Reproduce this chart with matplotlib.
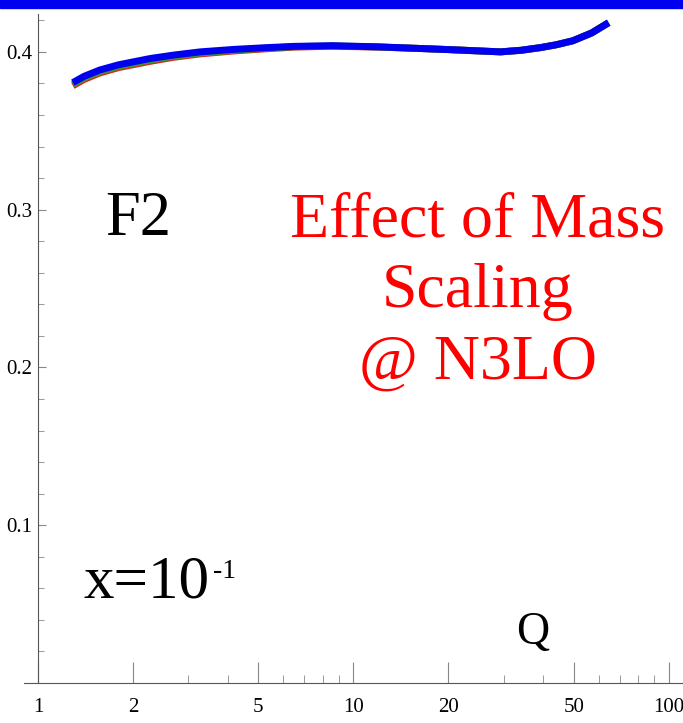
import matplotlib.pyplot as plt
import matplotlib.patches as mpatches
import numpy as np

# F2 at x = 0.1 vs Q for three mass-scaling choices
Q = [1.29, 1.4, 1.57, 1.8, 2.27, 2.7, 3.27, 4.2, 5.33, 6.5, 8.6, 12, 16, 20.3, 25, 29.3, 34, 39.2, 44, 49.6, 57, 64.5]
F2_red = [0.3785, 0.3825, 0.3866, 0.3900, 0.3940, 0.3966, 0.3987, 0.4006, 0.4020, 0.4030, 0.4036, 0.4030, 0.4022, 0.4014, 0.4006, 0.4000, 0.4010, 0.4027, 0.4045, 0.4070, 0.4120, 0.4185]
F2_green = [0.3795, 0.3835, 0.3875, 0.3909, 0.3949, 0.3973, 0.3993, 0.4011, 0.4024, 0.4033, 0.4038, 0.4031, 0.4022, 0.4014, 0.4006, 0.4000, 0.4010, 0.4027, 0.4045, 0.4070, 0.4120, 0.4185]
F2_blue = [0.3805, 0.3845, 0.3885, 0.3918, 0.3958, 0.3980, 0.4000, 0.4016, 0.4027, 0.4035, 0.4039, 0.4032, 0.4022, 0.4014, 0.4006, 0.4000, 0.4010, 0.4027, 0.4045, 0.4070, 0.4120, 0.4185]

major_x = [1, 2, 5, 10, 20, 50, 100]
minor_x = [3, 4, 6, 7, 8, 9, 30, 40, 60, 70, 80, 90]
major_y = [0.1, 0.2, 0.3, 0.4]

plt.rcParams['font.family'] = ['Liberation Serif', 'DejaVu Serif']

W, H = 683, 723
fig = plt.figure(figsize=(W / 100, H / 100), dpi=100)
ax = fig.add_axes([24 / W, 40 / H, 1 - 24 / W, (683 - 14) / H])

# blue banner along the top edge
fig.patches.append(mpatches.Rectangle((0, 1 - 8 / H), 1, 8 / H, transform=fig.transFigure,
                                      color='#0000f0', zorder=10))

ax.plot(Q, F2_red, color='#d42a1a', lw=5, solid_capstyle='butt')
ax.plot(Q, F2_green, color='#3a9a2a', lw=5, solid_capstyle='butt')
ax.plot(Q, F2_blue, color='#0000ee', lw=5, solid_capstyle='butt')

ax.set_xscale('log')
ax.set_xlim(0.903, 111)
ax.set_ylim(0, 0.424)

for s in ['top', 'right']:
    ax.spines[s].set_visible(False)
ax.spines['left'].set_position(('data', 1))
for s in ['left', 'bottom']:
    ax.spines[s].set_color('#555555')
    ax.spines[s].set_linewidth(0.8)

ax.set_xticks(major_x)
ax.set_xticklabels([str(v) for v in major_x])
ax.set_xticks(minor_x, minor=True)
ax.set_yticks(major_y)
ax.set_yticklabels([str(v) for v in major_y])
ax.set_yticks(np.arange(0.02, 0.424, 0.02), minor=True)

ax.tick_params(axis='x', which='major', direction='in', length=15, color='#888888', labelsize=15, pad=11)
ax.tick_params(axis='x', which='minor', direction='in', length=6, color='#888888')
ax.tick_params(axis='y', which='major', direction='in', length=6, color='#888888', labelsize=15, pad=4)
ax.tick_params(axis='y', which='minor', direction='in', length=4, color='#888888')


def px(x, y):
    return x / W, 1 - y / H


fig.text(*px(105, 235), 'F2', fontsize=45, ha='left', va='baseline')
for line, base in zip(['Effect of Mass', 'Scaling', '@ N3LO'], [237, 307, 379]):
    fig.text(*px(478, base), line, fontsize=46, color='#ff0000', ha='center', va='baseline')
fig.text(*px(84, 598), 'x=10', fontsize=44, ha='left', va='baseline')
fig.text(*px(213, 578), '-1', fontsize=20, ha='left', va='baseline')
fig.text(*px(533, 644), 'Q', fontsize=33, ha='center', va='baseline')

fig.savefig('out.png', dpi=100)
